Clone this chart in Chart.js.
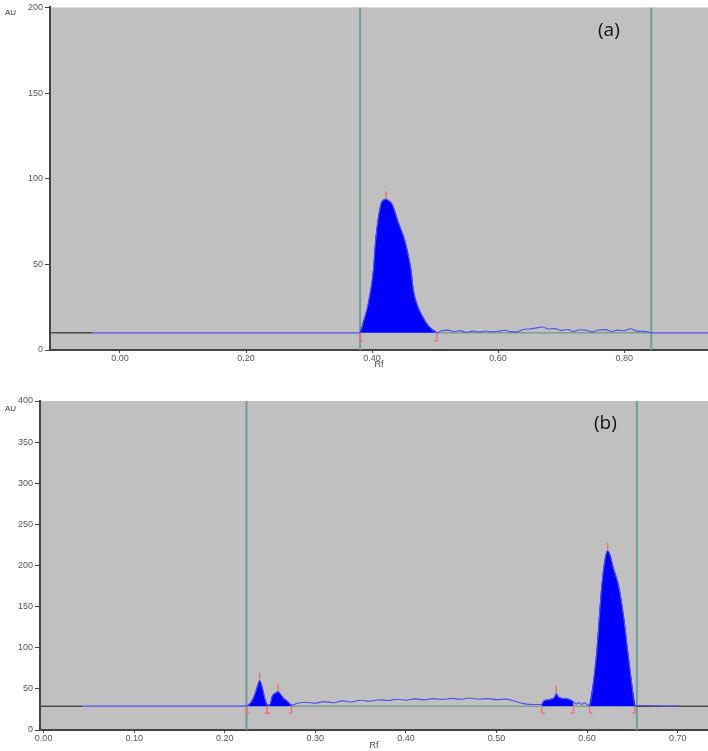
<!DOCTYPE html>
<html>
<head>
<meta charset="utf-8">
<script src="https://cdn.jsdelivr.net/npm/chart.js@4.4.1/dist/chart.umd.min.js"></script>
<style>
  body { margin: 0; background: #fff; }
  #wrap { position: relative; width: 708px; height: 751px; overflow: hidden; }
  canvas { position: absolute; left: 0; }
  .lbl { position: absolute; font-family: 'Liberation Sans', Arial, sans-serif; color: #333; font-size: 8px; }
  .tag { position: absolute; font-family: 'Open Sans', sans-serif; font-size: 19px; color: #111; }
</style>
</head>
<body>
<div id="wrap">
  <canvas id="chartA" width="708" height="370" style="top:0"></canvas>
  <canvas id="chartB" width="708" height="359" style="top:392px"></canvas>
  <div class="lbl" style="left:5px;top:8px">AU</div>
  <div class="tag" style="left:598px;top:16px">(a)</div>
  <div class="lbl" style="left:5px;top:404px">AU</div>
  <div class="tag" style="left:594px;top:409px">(b)</div>
</div>
<script>
// ---- (a) ----
const traceRfA = [-0.043, 0.381, 0.386, 0.394, 0.402, 0.406, 0.414, 0.418, 0.422, 0.427, 0.432, 0.441, 0.451, 0.457,
  0.462, 0.465, 0.471, 0.481, 0.489, 0.503,
  0.51, 0.52, 0.53, 0.54, 0.55, 0.56, 0.57, 0.58, 0.59, 0.60, 0.61, 0.62, 0.63, 0.64, 0.65, 0.66, 0.67,
  0.68, 0.69, 0.70, 0.71, 0.72, 0.73, 0.74, 0.75, 0.76, 0.77, 0.78, 0.79, 0.80, 0.81, 0.82, 0.83, 0.84,
  0.843, 0.933];
const traceAuA = [10, 10, 16, 27, 46, 65, 85, 87.5, 88, 87, 85, 75, 65, 56,
  46, 36, 27, 19, 14.4, 10,
  11.2, 11.6, 10.8, 11.3, 10.4, 11.0, 10.5, 11.1, 10.6, 10.9, 11.5, 10.7, 10.6, 12.0, 12.3, 12.8, 13.4,
  12.3, 12.5, 11.4, 12.0, 10.9, 11.8, 11.5, 10.6, 11.7, 11.9, 10.8, 11.6, 11.2, 12.4, 11.0, 10.9, 10.4,
  10, 10];
const baseA = 10;
const peakStartA = [0.381];
const peakApexA = [0.422];
const peakEndA = [0.503];
const cursorsA = [0.381, 0.843];
const darkSegA = [[-0.111, -0.043]];
const baseSegA = [[0.503, 0.843]];
const xRangeA = [-0.111, 0.933];
const xTicksA = [0, 0.2, 0.4, 0.6, 0.8];
const yMaxA = 200;
const yStepA = 50;

// ---- (b) ----
const traceRfB = [0.0425, 0.224, 0.2285, 0.2322, 0.236, 0.2385, 0.2415, 0.244, 0.247,
  0.25, 0.2526, 0.2563, 0.2588, 0.2618, 0.2655, 0.2692, 0.2737,
  0.28, 0.29, 0.30, 0.31, 0.32, 0.33, 0.34, 0.35, 0.36, 0.37, 0.38, 0.39, 0.40, 0.41, 0.42, 0.43, 0.44,
  0.45, 0.46, 0.47, 0.48, 0.49, 0.50, 0.51, 0.52, 0.53, 0.54,
  0.55, 0.552, 0.556, 0.56, 0.5635, 0.566, 0.5685, 0.572, 0.577, 0.582, 0.585,
  0.588, 0.591, 0.594, 0.597, 0.600,
  0.6028, 0.6073, 0.6106, 0.6162, 0.6195, 0.6228, 0.6295, 0.635, 0.6406, 0.645, 0.6494, 0.6527,
  0.701];
const traceAuB = [29, 29, 33, 40.5, 52.7, 60, 51, 39, 30,
  31, 41.5, 45, 46.5, 43, 38, 35, 30,
  32.5, 33.8, 32.6, 34.5, 33.2, 35.4, 34.1, 36.2, 35.0, 36.8, 35.9, 37.4, 36.3, 37.8, 36.6, 38.2, 37.0,
  38.4, 37.3, 38.9, 37.6, 38.1, 36.9, 37.5, 35.2, 32.1, 31.0,
  31, 35, 36.5, 37.5, 39, 44, 40, 38.5, 38, 36.5, 34,
  31.5, 33.5, 31, 33, 31,
  29, 60, 94, 174, 205, 218, 195, 174, 135, 94, 55, 30,
  29];
const baseB = 29;
const peakStartB = [0.224, 0.247, 0.55, 0.6028];
const peakApexB = [0.2385, 0.2588, 0.566, 0.6228];
const peakEndB = [0.247, 0.2737, 0.585, 0.6527];
const cursorsB = [0.224, 0.655];
const darkSegB = [[-0.004, 0.0425], [0.6527, 0.7335]];
const baseSegB = [[0.2737, 0.55], [0.585, 0.6028]];
const xRangeB = [-0.004, 0.7335];
const xTicksB = [0, 0.1, 0.2, 0.3, 0.4, 0.5, 0.6, 0.7];
const yMaxB = 400;
const yStepB = 50;

Chart.defaults.font.family = "'Liberation Sans', Arial, sans-serif";

// gray plot area + red integration marks
const chromPlugin = {
  id: 'chrom',
  beforeDraw(chart) {
    const a = chart.chartArea;
    const ctx = chart.ctx;
    ctx.save();
    ctx.fillStyle = '#c0c0c0';
    ctx.fillRect(a.left, a.top, a.right - a.left, a.bottom - a.top);
    ctx.restore();
  },
  afterDatasetsDraw(chart, args, opts) {
    const xs = chart.scales.x, ys = chart.scales.y;
    const ctx = chart.ctx;
    const yb = ys.getPixelForValue(opts.base);
    ctx.save();
    ctx.strokeStyle = '#f06a6a';
    ctx.lineWidth = 1.3;
    opts.starts.forEach((s, i) => {
      const e = opts.ends[i];
      const xa = opts.apex[i];
      const top = opts.trace.y[opts.trace.x.indexOf(xa)];
      const px0 = xs.getPixelForValue(s), px1 = xs.getPixelForValue(e), pa = xs.getPixelForValue(xa);
      const pt = ys.getPixelForValue(top);
      ctx.beginPath();
      ctx.moveTo(pa, pt - 1); ctx.lineTo(pa, pt - 8);
      ctx.moveTo(px0, yb); ctx.lineTo(px0, yb + opts.h); ctx.lineTo(px0 + 3, yb + opts.h);
      ctx.moveTo(px1, yb); ctx.lineTo(px1, yb + opts.h); ctx.lineTo(px1 - 3, yb + opts.h);
      ctx.stroke();
    });
    ctx.restore();
  }
};

function buildChart(id, d) {
  const pts = d.rf.map((x, i) => ({ x, y: d.au[i] }));
  const datasets = [];
  datasets.push({ data: pts, borderColor: '#4f4ff0', borderWidth: 1.1, fill: false,
                  cubicInterpolationMode: 'monotone' });
  d.starts.forEach((s, i) => {
    const e = d.ends[i];
    datasets.push({
      data: pts.filter(p => p.x >= s && p.x <= e),
      borderColor: '#0000ff', backgroundColor: '#0000ff', borderWidth: 1,
      cubicInterpolationMode: 'monotone',
      fill: { value: d.base }
    });
  });
  d.dark.forEach(seg => datasets.push({
    data: seg.map(x => ({ x, y: d.base })), borderColor: '#4a4a4a', borderWidth: 1.5, fill: false
  }));
  d.baseSeg.forEach(seg => datasets.push({
    data: seg.map(x => ({ x, y: d.base })), borderColor: '#7e9e92', borderWidth: 1.5, fill: false
  }));
  d.cursors.forEach(c => datasets.push({
    data: [{ x: c, y: 0 }, { x: c, y: d.yMax }], borderColor: '#6f9c9c', borderWidth: 2, fill: false
  }));

  return new Chart(document.getElementById(id), {
    type: 'line',
    data: { datasets },
    plugins: [chromPlugin],
    options: {
      responsive: false,
      animation: false,
      devicePixelRatio: 1,
      layout: { padding: { top: d.padTop, right: 0, left: 0, bottom: 0 } },
      elements: { point: { radius: 0 } },
      plugins: {
        legend: { display: false },
        tooltip: { enabled: false },
        chrom: { base: d.base, starts: d.starts, ends: d.ends, apex: d.apexX,
                 trace: { x: d.rf, y: d.au }, h: d.bracketH }
      },
      scales: {
        x: {
          type: 'linear', min: d.xRange[0], max: d.xRange[1],
          afterBuildTicks: s => { s.ticks = d.xTicks.map(v => ({ value: v })); },
          afterFit: s => { s.height = d.xAxisH; },
          ticks: { callback: v => Number(v).toFixed(2), font: { size: 9 }, color: '#555',
                   padding: 0, maxRotation: 0, autoSkip: false },
          grid: { drawOnChartArea: false, tickLength: 3, color: '#444' },
          border: { color: '#444', width: 2 },
          title: { display: true, text: 'Rf', font: { size: 9 }, color: '#444', padding: { top: 0, bottom: 0 } }
        },
        y: {
          min: 0, max: d.yMax,
          afterFit: s => { s.width = d.yAxisW; },
          ticks: { stepSize: d.yStep, font: { size: 9 }, color: '#555', padding: 2 },
          grid: { drawOnChartArea: false, tickLength: 5, color: '#444' },
          border: { color: '#444', width: 2 }
        }
      }
    }
  });
}

buildChart('chartA', {
  rf: traceRfA, au: traceAuA, base: baseA, starts: peakStartA, ends: peakEndA, apexX: peakApexA,
  cursors: cursorsA, dark: darkSegA, baseSeg: baseSegA, xRange: xRangeA, xTicks: xTicksA,
  yMax: yMaxA, yStep: yStepA, padTop: 3, xAxisH: 20, yAxisW: 50, bracketH: 8
});
buildChart('chartB', {
  rf: traceRfB, au: traceAuB, base: baseB, starts: peakStartB, ends: peakEndB, apexX: peakApexB,
  cursors: cursorsB, dark: darkSegB, baseSeg: baseSegB, xRange: xRangeB, xTicks: xTicksB,
  yMax: yMaxB, yStep: yStepB, padTop: 9, xAxisH: 21, yAxisW: 40, bracketH: 7
});
</script>
</body>
</html>
